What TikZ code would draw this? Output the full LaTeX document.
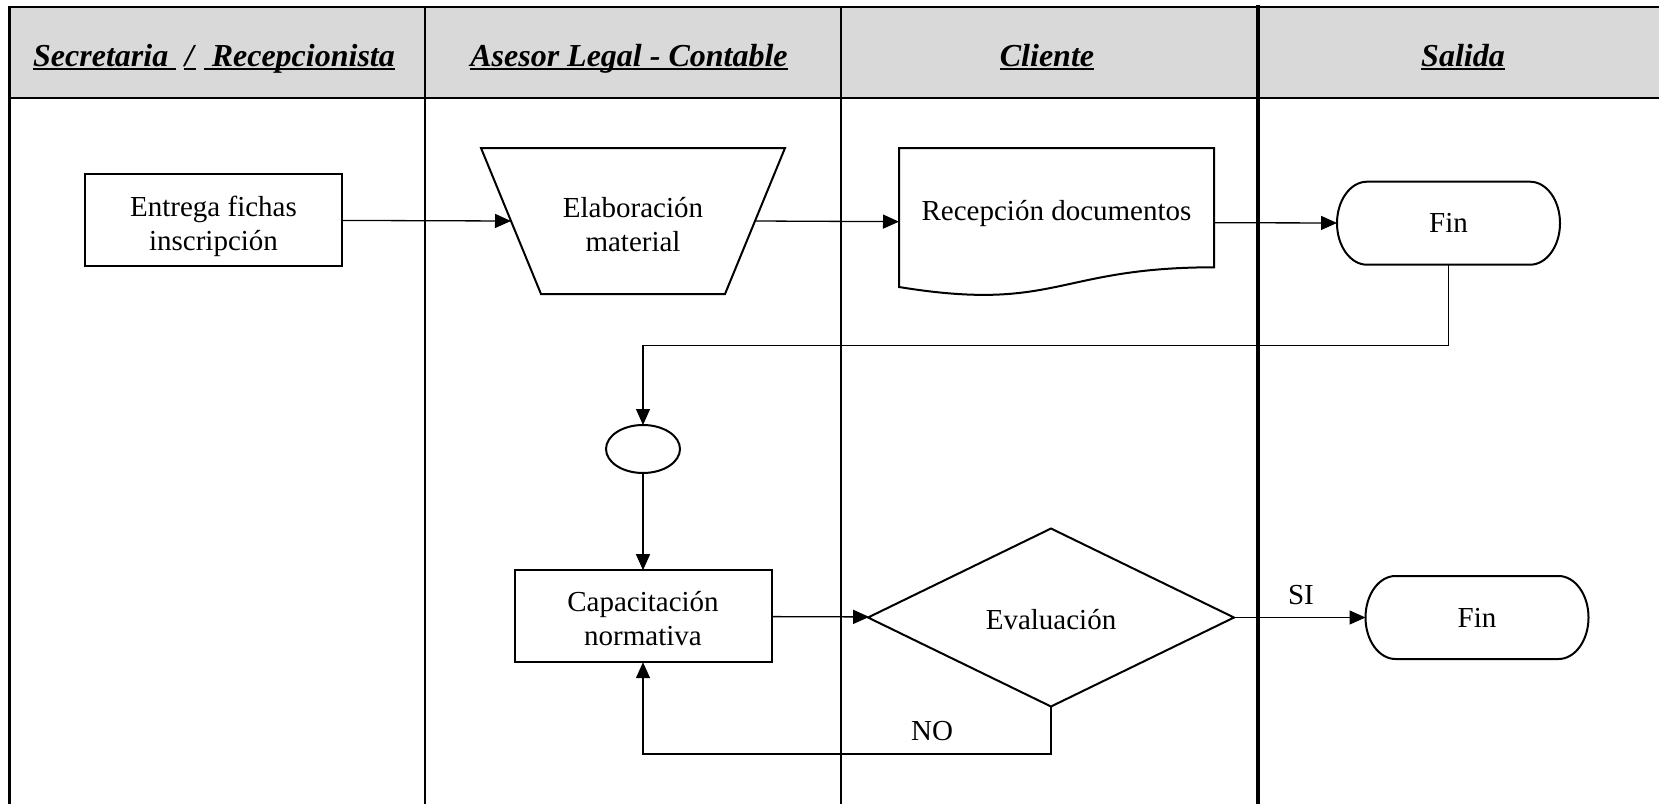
\documentclass[tikz,border=0pt]{standalone}
\usepackage{fontspec}
\setmainfont{Liberation Serif}
\usetikzlibrary{arrows.meta,shapes.geometric,calc}

% underline at a fixed depth below the baseline
\newcommand\uln[1]{\setbox0\hbox{#1}\rlap{\rule[-1.9pt]{\wd0}{1.1pt}}\box0}
% shift node text vertically while keeping its measured size
\newcommand\nudge[2]{\raisebox{#1}[\height][\depth]{#2}}

% outline of a terminator (stadium with elliptic ends) around a node
\newcommand\termoutline[1]{%
  \draw[shapeline] ($(#1.north west)+(30,0)$) -- ($(#1.north east)+(-30,0)$)
    arc[start angle=90,end angle=-90,x radius=15pt,y radius=20.75pt]
    -- ($(#1.south west)+(30,0)$)
    arc[start angle=270,end angle=90,x radius=15pt,y radius=20.75pt] -- cycle;}

% outline of a document symbol (wavy bottom edge) around a node
\newcommand\docoutline[1]{%
  \draw[shapeline] (#1.north west) -- (#1.north east)
    -- ($(#1.north east)+(0,119.3)$)
    .. controls ($(#1.north)+(0,119.3)$) and ($(#1.north)+(0,164.7)$)
    .. ($(#1.north west)+(0,139)$) -- cycle;}

% outline of a manual-operation trapezium (wide top, narrow bottom) around a node
\newcommand\trapoutline[1]{%
  \draw[shapeline] (#1.north west) -- (#1.north east)
    -- ($(#1.south east)+(-60,0)$) -- ($(#1.south west)+(60,0)$) -- cycle;}

\definecolor{headgray}{HTML}{D9D9D9}

\begin{document}
\begin{tikzpicture}[x=0.5pt,y=-0.5pt,
  lane/.style={line width=1.4pt,line cap=rect},
  shapeline/.style={line width=1pt},
  flow/.style={line width=0.65pt,-{Triangle[length=8pt,width=7pt]}},
  body/.style={font=\fontsize{14.5}{17}\selectfont,align=center,inner sep=0pt,outer sep=0pt},
  head/.style={font=\fontsize{16}{18}\selectfont\bfseries\itshape,inner sep=0pt,anchor=base},
  procbox/.style={body,draw,line width=1pt,minimum width=128.5pt,minimum height=46pt},
  termbox/.style={body,minimum width=111.5pt,minimum height=41.5pt},
]
\useasboundingbox (0,0) rectangle (1659,803);
\clip (0,0) rectangle (1659,803);

% header band and swimlane rules
\fill[headgray] (9.5,7) rectangle (1680,98);
\draw[lane] (1680,7) -- (9.5,7) -- (9.5,820);
\draw[lane] (9.5,98) -- (1680,98);
\foreach \x in {425,841} \draw[lane] (\x,7) -- (\x,820);
\draw[lane,line width=1.7pt] (1258,7) -- (1258,820);

% lane titles
\node[head] (h1) at (214,66) {\uln{Secretaria\hspace{3.8pt}}\hspace{4pt}\uln{\hspace{0.5pt}/\hspace{1pt}}\hspace{4.3pt}\uln{\hspace{3.7pt}Recepcionista}};
\node[head] (h2) at (629,66) {\uln{Asesor Legal - Contable}};
\node[head] (h3) at (1047,66) {\uln{Cliente}};
\node[head] (h4) at (1463,66) {\uln{Salida}};

% flow steps
\node[procbox] (entrega) at (213.5,220) {\nudge{-3.2pt}{\parbox{120pt}{\centering Entrega fichas\\inscripción}}};
\node[body,minimum width=152pt,minimum height=73pt] (elab) at (633,221)
      {\nudge{-1.8pt}{\parbox{120pt}{\centering Elaboración\\material}}};
\trapoutline{elab}
\node[body,minimum width=157.5pt,minimum height=74.4pt] (doc) at (1056.5,222.4)
      {\nudge{4.2pt}{Recepción documentos}};
\docoutline{doc}
\node[termbox] (fin1) at (1448.5,223.2) {Fin};
\termoutline{fin1}
\node[body,draw,line width=1pt,ellipse,minimum width=37pt,minimum height=24pt] (circ) at (643,449) {};
\node[procbox] (capac) at (643,616.2) {\nudge{-1pt}{\parbox{120pt}{\centering Capacitación\\normativa}}};
\node[body,draw,line width=1pt,diamond,minimum width=183pt,minimum height=89pt] (eval) at (1051,617.5)
      {\nudge{-1pt}{Evaluación}};
\node[termbox] (fin2) at (1477,617.5) {Fin};
\termoutline{fin2}

% connectors
\draw[flow] (entrega) -- ($(elab.west)+(30,0)$);
\draw[flow] ($(elab.east)+(-30,0)$) -- (doc);
\draw[flow] (doc) -- (fin1);
\draw[flow] (fin1.south) -- ++(0,81) -| (circ.north);
\draw[flow] (circ) -- (capac);
\draw[flow] (capac) -- (eval);
\draw[flow] (eval) -- (fin2);
\draw[flow] (eval.south) -- ++(0,47.5) -| (capac.south);

% branch labels
\node[body,anchor=base] (si) at (1301,604) {SI};
\node[body,anchor=base] (no) at (932,740) {NO};
\end{tikzpicture}
\end{document}
